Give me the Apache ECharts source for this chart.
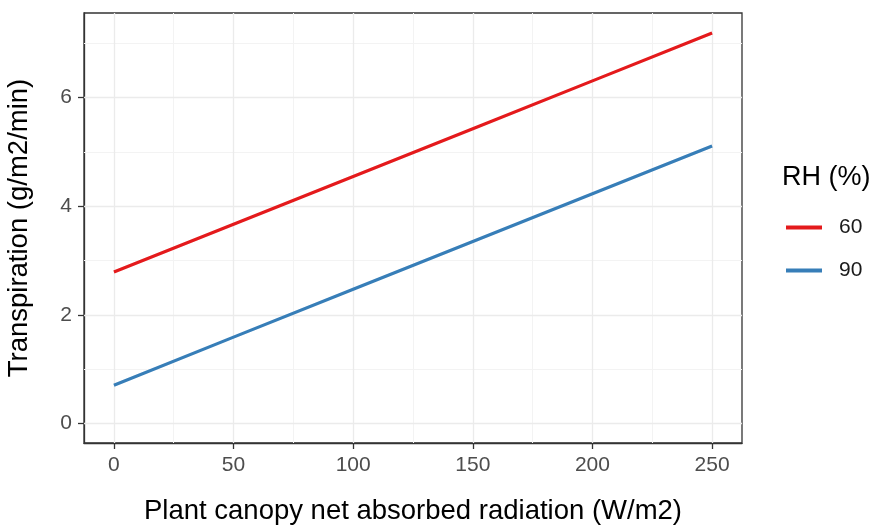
<!DOCTYPE html>
<html>
<head>
<meta charset="UTF-8">
<title>Transpiration vs radiation</title>
<script type="text/javascript" src="https://cdn.jsdelivr.net/npm/echarts@6/dist/echarts.min.js"></script>
</head>
<body style="margin:0;background:#fff;">

<div id="box" style="width:875px;height:530px;"></div>

<script type="text/javascript">
// values
var radiation = [0, 50, 100, 150, 200, 250];
var rh60 = [2.79, 3.67, 4.55, 5.43, 6.31, 7.19];
var rh90 = [0.705, 1.59, 2.47, 3.35, 4.23, 5.11];
var seriesNames = ['60', '90'];

var xTicks = [0, 50, 100, 150, 200, 250];
var xMinor = [25, 75, 125, 175, 225];
var yTicks = [0, 2, 4, 6];
var yMinor = [1, 3, 5, 7];

var font = 'Liberation Sans, Arial, sans-serif';

function pairs(xs, ys) {
  return xs.map(function (x, i) { return [x, ys[i]]; });
}

// grid lines (ggplot style) as mark lines
var gridLines = [];
function addLine(key, v, color, width) {
  var d = { lineStyle: { color: color, width: width, type: 'solid' } };
  d[key] = v;
  gridLines.push(d);
}
xMinor.forEach(function (v) { addLine('xAxis', v, '#f3f3f3', 1); });
yMinor.forEach(function (v) { addLine('yAxis', v, '#f3f3f3', 1); });
xTicks.forEach(function (v) { addLine('xAxis', v, '#ebebeb', 1.3); });
yTicks.forEach(function (v) { addLine('yAxis', v, '#ebebeb', 1.3); });

var mychart = echarts.init(document.getElementById('box'));

var option = {
  animation: false,
  backgroundColor: '#fff',
  title: {
    text: 'RH (%)',
    left: 782,
    top: 164,
    padding: 0,
    textStyle: { fontFamily: font, fontSize: 27, fontWeight: 'normal', color: '#000' }
  },
  legend: {
    data: seriesNames,
    orient: 'vertical',
    left: 786,
    top: 217,
    padding: 0,
    itemWidth: 36,
    itemHeight: 4,
    itemGap: 22,
    icon: 'rect',
    textStyle: { fontFamily: font, fontSize: 21, lineHeight: 21, color: '#1a1a1a', padding: [0, 0, 0, 12] }
  },
  grid: {
    left: 84,
    right: 133,
    top: 13,
    bottom: 87,
    outerBoundsMode: 'none',
    show: true,
    borderColor: '#333',
    borderWidth: 1.3,
    backgroundColor: '#fff'
  },
  xAxis: {
    type: 'value',
    min: -12.5,
    max: 262.5,
    name: 'Plant canopy net absorbed radiation (W/m2)',
    nameLocation: 'middle',
    nameGap: 54,
    nameTextStyle: { fontFamily: font, fontSize: 27.5, color: '#000' },
    axisLine: { show: true, onZero: false, lineStyle: { color: '#333', width: 1.3 } },
    axisTick: { show: true, customValues: xTicks, length: 6, lineStyle: { color: '#333', width: 1.3 } },
    axisLabel: { customValues: xTicks, fontFamily: font, fontSize: 21, color: '#4d4d4d', margin: 12 },
    splitLine: { show: false }
  },
  yAxis: {
    type: 'value',
    min: -0.36,
    max: 7.56,
    name: 'Transpiration (g/m2/min)',
    nameLocation: 'middle',
    nameGap: 51,
    nameTextStyle: { fontFamily: font, fontSize: 27.5, color: '#000' },
    axisLine: { show: true, onZero: false, lineStyle: { color: '#333', width: 1.3 } },
    axisTick: { show: true, customValues: yTicks, length: 6, lineStyle: { color: '#333', width: 1.3 } },
    axisLabel: { customValues: yTicks, fontFamily: font, fontSize: 21, color: '#4d4d4d', margin: 12 },
    splitLine: { show: false }
  },
  series: [
    {
      name: 'grid',
      type: 'line',
      data: [],
      z: 1,
      silent: true,
      markLine: {
        silent: true,
        z: 1,
        symbol: 'none',
        label: { show: false },
        emphasis: { disabled: true },
        animation: false,
        data: gridLines
      }
    },
    {
      name: seriesNames[0],
      type: 'line',
      data: pairs(radiation, rh60),
      showSymbol: false,
      z: 6,
      color: '#e41a1c',
      lineStyle: { width: 3.2, color: '#e41a1c' }
    },
    {
      name: seriesNames[1],
      type: 'line',
      data: pairs(radiation, rh90),
      showSymbol: false,
      z: 6,
      color: '#377eb8',
      lineStyle: { width: 3.2, color: '#377eb8' }
    }
  ]
};

mychart.setOption(option);
</script>
</body>
</html>
